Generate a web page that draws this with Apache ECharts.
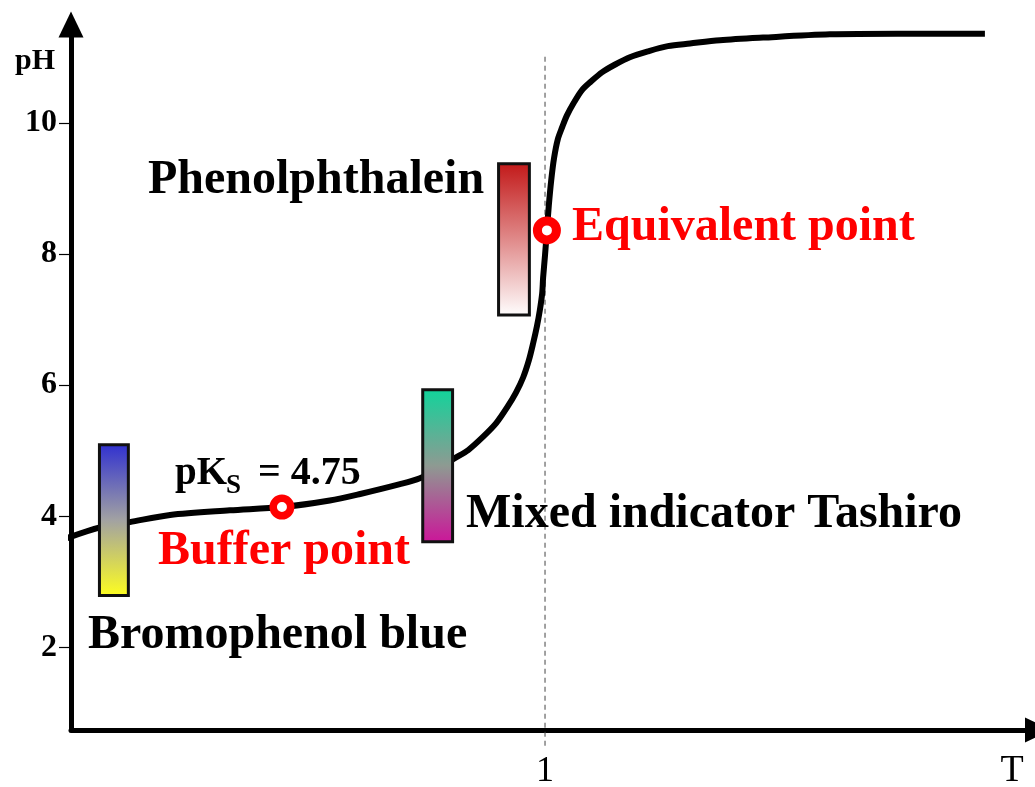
<!DOCTYPE html>
<html><head><meta charset="utf-8">
<script src="https://cdn.jsdelivr.net/npm/echarts@6/dist/echarts.min.js"></script>
<style>html,body{margin:0;padding:0;background:#fff}#c{width:1035px;height:787px}</style>
</head><body><div id="c"></div>
<script>
// Titration curve (T = titration degree, pH)
const curveT  = [-0.015, 0.061, 0.124, 0.209, 0.335, 0.445, 0.546, 0.610, 0.694, 0.736, 0.778, 0.806, 0.838, 0.869, 0.897, 0.920, 0.939, 0.954, 0.966, 0.975, 0.983, 0.989, 0.994, 0.996, 1.000, 1.004, 1.008, 1.013, 1.019, 1.027, 1.036, 1.046, 1.061, 1.078, 1.097, 1.120, 1.148, 1.179, 1.217, 1.259, 1.306, 1.369, 1.460, 1.601, 1.743, 1.928];
const curvePH = [3.65, 3.83, 3.91, 4.02, 4.09, 4.14, 4.24, 4.34, 4.49, 4.58, 4.73, 4.87, 5.01, 5.21, 5.42, 5.66, 5.89, 6.12, 6.38, 6.64, 6.90, 7.14, 7.40, 7.64, 7.98, 8.36, 8.74, 9.12, 9.46, 9.75, 9.93, 10.11, 10.31, 10.50, 10.63, 10.77, 10.89, 11.00, 11.09, 11.17, 11.21, 11.26, 11.30, 11.35, 11.36, 11.36];

// Indicator colour ranges
const indNames = ['Bromophenol blue', 'Mixed indicator Tashiro', 'Phenolphthalein'];
const indT0   = [0.060, 0.742, 0.902];
const indT1   = [0.121, 0.805, 0.967];
const indLow  = [2.79, 3.61, 7.07];
const indHigh = [5.09, 5.93, 9.375];
const indColors = [
  ['#3030d0', '#a2a2a2', '#ffff1e'],
  ['#10d49b', '#8e9a92', '#cc1499'],
  ['#c21818', '#e08a8a', '#ffffff']
];

// Marked points
const pointNames = ['Buffer point', 'Equivalent point'];
const pointT  = [0.445, 1.004];
const pointPH = [4.14, 8.36];

// Equivalence guide line
const guideT  = [1, 1];
const guidePH = [0.5, 11.03];

// Axis ticks
const yTicks = [2, 4, 6, 8, 10];
const xTicks = [1];

const chart = echarts.init(document.getElementById('c'), null, {renderer: 'canvas'});
const serif = '"Liberation Serif", "Times New Roman", serif';

const indData = indNames.map((n, i) => [indT0[i], indT1[i], indLow[i], indHigh[i], i]);

const option = {
  backgroundColor: '#ffffff',
  animation: false,
  grid: {left: 71, right: -3, top: 24.5, bottom: 57, outerBoundsMode: 'none', containLabel: false},
  xAxis: {
    type: 'value', min: 0, max: 2.04,
    axisLine: {lineStyle: {color: '#000', width: 5, cap: 'round'}, symbol: ['none', 'triangle'], symbolSize: [25, 26]},
    axisTick: {show: false},
    splitLine: {show: false},
    axisLabel: {customValues: xTicks, color: '#000', fontFamily: serif, fontSize: 36, margin: 24}
  },
  yAxis: {
    type: 'value', min: 0.74, max: 11.5,
    axisLine: {lineStyle: {color: '#000', width: 5, cap: 'round'}, symbol: ['none', 'triangle'], symbolSize: [25, 26]},
    axisTick: {customValues: yTicks, length: 12, lineStyle: {color: '#000', width: 1.2}},
    splitLine: {show: false},
    axisLabel: {customValues: yTicks, color: '#000', fontFamily: serif, fontWeight: 'bold', fontSize: 32, margin: 14}
  },
  series: [
    {
      type: 'line', data: guideT.map((t, i) => [t, guidePH[i]]), clip: false, symbol: 'none', z: 1,
      lineStyle: {color: '#444', width: 1, type: [5, 4]}
    },
    {
      type: 'line', data: curveT.map((t, i) => [t, curvePH[i]]), clip: false, symbol: 'none',
      smooth: 0.3, z: 2,
      lineStyle: {color: '#000', width: 6}
    },
    {
      type: 'custom', data: indData, clip: false, z: 3,
      renderItem(params, api) {
        const i = api.value(4);
        const p0 = api.coord([api.value(0), api.value(3)]);
        const p1 = api.coord([api.value(1), api.value(2)]);
        const cols = indColors[i];
        return {
          type: 'rect',
          shape: {x: p0[0], y: p0[1], width: p1[0] - p0[0], height: p1[1] - p0[1]},
          style: {
            fill: new echarts.graphic.LinearGradient(0, 0, 0, 1, cols.map((c, k) => ({offset: k / (cols.length - 1), color: c}))),
            stroke: '#111', lineWidth: 3
          }
        };
      }
    },
    {
      type: 'scatter', z: 4, clip: false,
      data: pointT.map((t, i) => ({
        value: [t, pointPH[i]],
        symbolSize: i === 0 ? 17.5 : 19,
        itemStyle: {color: '#fff', opacity: 1, borderColor: '#ff0000', borderWidth: i === 0 ? 7.5 : 9}
      }))
    }
  ],
  graphic: [
    {type: 'text', x: 15, y: 61, z: 10, style: {text: 'pH', font: 'bold 30px ' + serif, fill: '#000', verticalAlign: 'middle'}},
    {type: 'text', x: 1012, y: 771, z: 10, style: {text: 'T', font: '38px ' + serif, fill: '#000', align: 'center', verticalAlign: 'middle'}},
    {type: 'text', x: 148, y: 181, z: 10, style: {text: 'Phenolphthalein', font: 'bold 48px ' + serif, fill: '#000', verticalAlign: 'middle'}},
    {type: 'text', x: 572, y: 228, z: 10, style: {text: 'Equivalent point', font: 'bold 48px ' + serif, fill: '#ff0000', verticalAlign: 'middle'}},
    {type: 'text', x: 466, y: 515, z: 10, style: {text: 'Mixed indicator Tashiro', font: 'bold 48px ' + serif, fill: '#000', verticalAlign: 'middle'}},
    {type: 'text', x: 88, y: 636, z: 10, style: {text: 'Bromophenol blue', font: 'bold 48px ' + serif, fill: '#000', verticalAlign: 'middle'}},
    {type: 'text', x: 158, y: 552, z: 10, style: {text: 'Buffer point', font: 'bold 48px ' + serif, fill: '#ff0000', verticalAlign: 'middle'}},
    {type: 'text', x: 175, y: 474, z: 10, style: {text: 'pK', font: 'bold 39px ' + serif, fill: '#000', verticalAlign: 'middle'}},
    {type: 'text', x: 226, y: 486, z: 10, style: {text: 'S', font: 'bold 27px ' + serif, fill: '#000', verticalAlign: 'middle'}},
    {type: 'text', x: 258, y: 474, z: 10, style: {text: '= 4.75', font: 'bold 40px ' + serif, fill: '#000', verticalAlign: 'middle'}}
  ]
};
chart.setOption(option);
</script>
</body></html>
